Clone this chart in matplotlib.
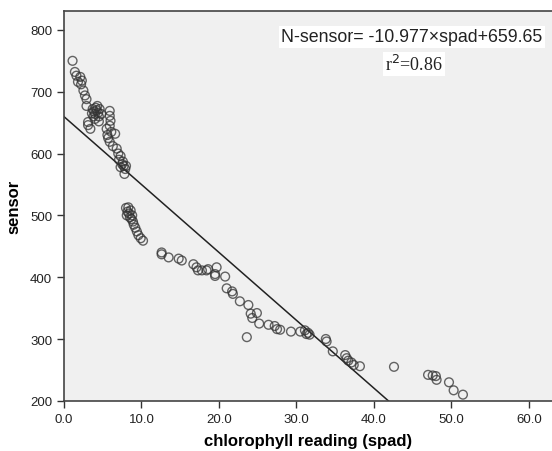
import numpy as np
import matplotlib.pyplot as plt

plt.rcParams['font.family'] = ['Liberation Sans', 'DejaVu Sans']

# spad readings and sensor values
spad = [1.1, 1.4, 1.6, 2.1, 1.8, 2.3, 2.2, 2.5, 2.7, 2.9, 2.9, 3.1, 3.4, 3.1,
        3.7, 3.9, 4.0, 4.2, 4.4, 4.5, 3.8, 4.1, 4.3, 4.6, 4.0, 4.5, 3.6, 4.8,
        5.9, 5.9, 6.0, 5.9, 5.5, 6.6, 5.9, 6.3, 5.7, 6.1, 6.8, 7.0, 7.3, 7.6,
        7.7, 7.9, 7.8, 7.5, 7.3, 8.0, 7.1, 5.6,
        8.0, 8.3, 8.2, 8.1, 8.4, 8.5, 8.7, 8.9, 9.0, 9.2, 9.4, 9.6, 9.9, 10.2,
        8.6, 8.8,
        12.6, 12.6, 13.5, 14.8, 15.2, 16.7, 17.1, 17.3, 17.8, 18.4, 18.6, 19.7,
        19.5, 19.5, 20.8, 21.0, 21.7, 21.8, 22.7, 23.8, 24.1, 24.3, 24.9, 25.2,
        23.6, 26.4, 27.2, 27.5, 27.9, 29.3, 30.5, 31.1, 31.3, 31.7, 31.5,
        33.8, 33.9, 34.7, 36.3, 36.5, 36.7, 37.1, 37.4, 38.2, 42.6,
        47.0, 47.6, 48.0, 48.1, 49.7, 50.3, 51.5]
sensor = [750, 732, 726, 724, 716, 718, 712, 702, 694, 688, 677, 646, 640, 651,
          672, 668, 664, 670, 666, 660, 660, 674, 677, 672, 656, 652, 665, 664,
          669, 661, 653, 645, 640, 632, 619, 612, 625, 635, 608, 600, 596, 587,
          580, 575, 567, 583, 578, 580, 590, 630,
          512, 513, 506, 500, 503, 497, 494, 490, 485, 480, 474, 468, 463, 459,
          508, 500,
          440, 437, 432, 430, 427, 421, 416, 411, 411, 411, 413, 416,
          405, 402, 401, 382, 377, 373, 361, 355, 341, 334, 342, 325,
          303, 323, 321, 316, 315, 312, 312, 314, 308, 307, 310,
          300, 296, 280, 274, 269, 265, 262, 258, 256, 255,
          242, 241, 240, 234, 230, 217, 210]

slope = -10.977
intercept = 659.65
r2 = 0.86

fig = plt.figure(figsize=(5.52, 4.52), dpi=100)
ax = fig.add_axes([0.116, 0.111, 0.884, 0.863])
ax.set_facecolor('#f0f0f0')

ax.scatter(spad, sensor, s=40, facecolors='none', edgecolors='#333333',
           linewidths=1.0, alpha=0.75, zorder=3)

xs = np.array([0, 45])
ax.plot(xs, intercept + slope * xs, color='#222222', lw=1.1, zorder=2)

ax.set_xlim(0, 63)
ax.set_ylim(200, 831)
ax.set_xticks([0, 10, 20, 30, 40, 50, 60])
ax.set_xticklabels(['0.0', '10.0', '20.0', '30.0', '40.0', '50.0', '60.0'])
ax.set_yticks([200, 300, 400, 500, 600, 700, 800])
ax.tick_params(direction='out', length=5, width=1, colors='#333333',
               labelsize=9.5, labelcolor='#222222')
for s in ['left', 'bottom', 'top']:
    ax.spines[s].set_color('#444444')
    ax.spines[s].set_linewidth(1.2)
ax.spines['right'].set_visible(False)

ax.set_xlabel('chlorophyll reading (spad)', fontsize=12, fontweight='bold',
              labelpad=6)
ax.set_ylabel('sensor', fontsize=12, fontweight='bold', labelpad=6)

ax.text(0.713, 0.933, 'N-sensor= -10.977\u00d7spad+659.65', transform=ax.transAxes,
        ha='center', va='center', fontsize=12.8, color='#222222',
        bbox=dict(facecolor='white', edgecolor='none', pad=1.5))
ax.text(0.717, 0.864, 'r$^2$=%.2f' % r2, transform=ax.transAxes,
        ha='center', va='center', fontsize=13, family='Liberation Serif',
        color='#222222', bbox=dict(facecolor='white', edgecolor='none', pad=1.5))

fig.savefig('out.png', dpi=100)
